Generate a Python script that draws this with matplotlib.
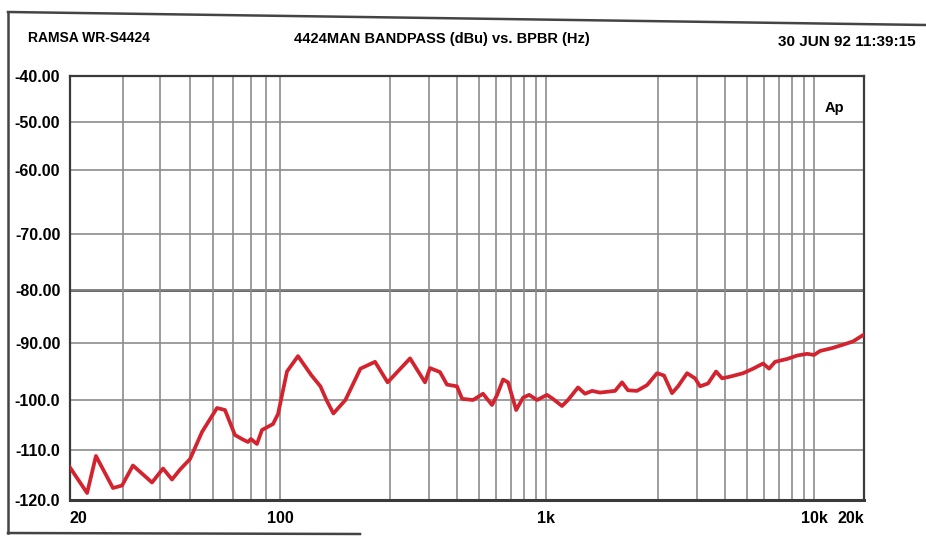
import numpy as np
import matplotlib
matplotlib.use('Agg')
import matplotlib.pyplot as plt
from matplotlib.ticker import FixedLocator
from matplotlib.lines import Line2D

# sweep data (Hz, dBu)
freq = [20, 22.8, 24.4, 27.8, 29.8, 32.4, 37.5, 40.8, 43.7, 46.5, 50.2, 55,
        61.7, 65.6, 70.8, 74.7, 78.2, 80, 83.8, 87.1, 94.8, 98.5, 101, 104.5,
        112, 122, 129, 134, 140, 151, 166, 182, 197, 246, 287, 302, 335, 360,
        399, 421, 471, 522, 573, 604, 642, 676, 735, 789, 840, 912, 1006,
        1044, 1104, 1146, 1219, 1273, 1330, 1396, 1533, 1601, 1661, 1756,
        1868, 1988, 2128, 2312, 2459, 2700, 2931, 3088, 3352, 3641, 3874,
        4209, 4813, 5337, 5916, 6292, 6692, 7580, 8405, 9314, 10000, 10870,
        12830, 14950, 17180, 20000]
level = [-113.5, -118.6, -111.2, -117.6, -117.1, -113.1, -116.5, -113.7,
         -115.9, -113.9, -111.8, -106.4, -101.6, -102.0, -107.0, -107.8,
         -108.4, -107.8, -108.8, -106.0, -104.8, -102.8, -99.5, -95.0,
         -92.3, -95.7, -97.6, -100.0, -102.7, -100.0, -94.5, -93.3, -96.9,
         -92.7, -96.9, -94.4, -95.1, -97.3, -97.6, -99.8, -100.0, -98.9,
         -101.0, -99.1, -96.4, -96.9, -102.0, -99.6, -99.1, -100.0, -99.1,
         -99.8, -101.2, -100.0, -97.8, -98.9, -98.4, -98.7, -98.4, -96.9,
         -98.3, -98.4, -97.4, -95.3, -95.7, -98.8, -97.6, -95.3, -96.2,
         -97.6, -97.1, -95.0, -96.2, -95.9, -95.3, -94.5, -93.6, -94.5,
         -93.3, -92.8, -92.2, -91.9, -92.1, -91.4, -90.9, -90.3, -89.7, -88.4]

x_ticks = [20, 100, 1000, 10000, 20000]
x_labels = ['20', '100', '1k', '10k', '20k']
y_ticks = [-120, -110, -100, -90, -80, -70, -60, -50, -40]
y_labels = ['-120.0', '-110.0', '-100.0', '-90.00', '-80.00', '-70.00',
            '-60.00', '-50.00', '-40.00']
x_grid = [m * d for d in (10, 100, 1000) for m in range(2, 11)][1:]

# the chart paper grid is not a clean log/linear grid, so map it piecewise
fx_knots = np.log10([20, 100, 200, 1000, 2000, 10000, 20000])
px_knots = np.array([70, 280, 390, 546, 658, 814, 864])
vy_knots = np.array(y_ticks, dtype=float)
py_knots = -np.array([500, 450, 400, 343, 290, 234, 170, 122, 76], dtype=float)


def fwd_x(f):
    return np.interp(np.log10(np.clip(f, 1e-3, None)), fx_knots, px_knots)


def inv_x(p):
    return 10 ** np.interp(p, px_knots, fx_knots)


def fwd_y(v):
    return np.interp(v, vy_knots, py_knots)


def inv_y(p):
    return np.interp(p, py_knots, vy_knots)


plt.rcParams['font.family'] = ['Liberation Sans', 'DejaVu Sans']
plt.rcParams['font.weight'] = 'bold'

fig = plt.figure(figsize=(9.26, 5.36), dpi=100)
ax = fig.add_axes([70 / 926, 36 / 536, 794 / 926, 424 / 536])
ax.set_xscale('function', functions=(fwd_x, inv_x))
ax.set_yscale('function', functions=(fwd_y, inv_y))
ax.set_xlim(20, 20000)
ax.set_ylim(-120, -40)

ax.set_xticks(x_ticks, labels=x_labels)
ax.xaxis.set_minor_locator(FixedLocator(x_grid))
ax.set_yticks(y_ticks, labels=y_labels)
ax.yaxis.set_minor_locator(FixedLocator([]))
ax.tick_params(axis='both', which='both', length=0, labelsize=11.5)
ax.tick_params(axis='x', pad=8)
ax.tick_params(axis='y', pad=7)
for lab in ax.get_xticklabels():
    lab.set_fontweight('bold')
for lab in ax.get_yticklabels():
    lab.set_fontweight('bold')
ax.get_xticklabels()[0].set_ha('left')
ax.get_xticklabels()[-1].set_ha('right')

ax.grid(True, which='both', axis='x', color='#8c8c8c', lw=1.2)
ax.grid(True, which='major', axis='y', color='#8c8c8c', lw=1.2)
ax.axhline(-80, color='#3a3a3a', lw=1.8, zorder=1.5)

for s in ax.spines.values():
    s.set_color('#3a3a3a')
    s.set_linewidth(1.6)
ax.spines['bottom'].set_linewidth(2.2)

ax.plot(freq, level, color='#d3232f', lw=2.7, solid_joinstyle='round',
        zorder=3)

ax.text(0.975, 0.925, 'Ap', transform=ax.transAxes, ha='right', va='center',
        fontsize=10.5, fontweight='bold')

fig.text(28 / 926, 1 - 38 / 536, 'RAMSA WR-S4424', ha='left', va='center',
         fontsize=10, fontweight='bold')
fig.text(442 / 926, 1 - 39 / 536, '4424MAN BANDPASS (dBu) vs. BPBR (Hz)',
         ha='center', va='center', fontsize=10.5, fontweight='bold')
fig.text(916 / 926, 1 - 42 / 536, '30 JUN 92 11:39:15', ha='right',
         va='center', fontsize=11, fontweight='bold')

# page edge of the scan
fig.add_artist(Line2D([8 / 926, 8 / 926], [1 - 12 / 536, 1 - 533 / 536],
                      color='#444444', lw=1.8))
fig.add_artist(Line2D([8 / 926, 1.0], [1 - 12 / 536, 1 - 25 / 536],
                      color='#444444', lw=1.8))
fig.add_artist(Line2D([8 / 926, 360 / 926], [1 - 533 / 536, 1 - 534 / 536],
                      color='#444444', lw=1.8))

fig.savefig('out.png', dpi=100)
